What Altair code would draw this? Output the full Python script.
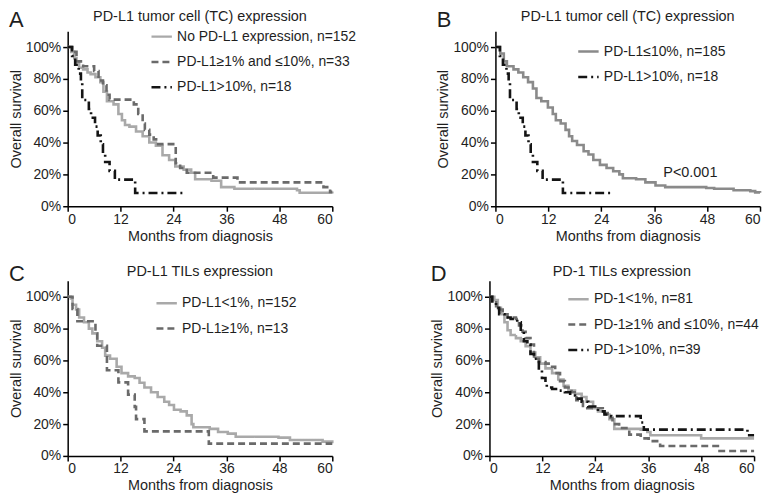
import altair as alt
import pandas as pd

FONT = "Liberation Sans"
TXT = "#1e1e1e"

# ---------------- data (months, survival fraction) ----------------
# Panel A: PD-L1 tumor cell (TC) expression, three groups
A_names = ["No PD-L1 expression, n=152", "PD-L1≥1% and ≤10%, n=33", "PD-L1>10%, n=18"]
A_none_t = [0, 0.8, 1.5, 2.0, 2.6, 3.5, 4.5, 5.2, 6.3, 7.4, 8.1, 8.9, 10.4, 11.5, 12.3, 13.0, 14.0,
            15.5, 17.0, 18.5, 20.0, 21.5, 23.0, 24.4, 26.3, 28.0, 28.9, 32.6, 34.8, 37.8, 52.0, 52.6, 60]
A_none_s = [1.0, 0.97, 0.93, 0.91, 0.87, 0.86, 0.84, 0.83, 0.81, 0.78, 0.72, 0.66, 0.64, 0.58, 0.54,
            0.51, 0.50, 0.47, 0.44, 0.40, 0.38, 0.32, 0.29, 0.25, 0.23, 0.21, 0.17, 0.16, 0.12, 0.11,
            0.10, 0.085, 0.08]
A_mid_t = [0, 1.0, 2.0, 3.5, 6.0, 7.0, 8.0, 8.8, 9.5, 15.0, 16.0, 17.0, 17.5, 18.5, 19.5, 20.5,
           24.5, 25.5, 27.0, 33.0, 38.5, 58.0, 59.5, 60]
A_mid_s = [1.0, 0.97, 0.91, 0.88, 0.85, 0.79, 0.76, 0.70, 0.67, 0.64, 0.58, 0.52, 0.48, 0.45,
           0.42, 0.39, 0.27, 0.24, 0.21, 0.18, 0.15, 0.12, 0.09, 0.09]
# PD-L1 >10% (same curve in panels A and B)
TC_high_t = [0, 1.0, 1.7, 2.5, 3.0, 3.3, 4.8, 5.3, 6.2, 6.8, 7.5, 8.0, 8.5, 9.5, 10.7, 15.3, 26.7]
TC_high_s = [1.0, 0.944, 0.889, 0.833, 0.778, 0.667, 0.611, 0.556, 0.500, 0.444, 0.389, 0.333,
             0.278, 0.222, 0.167, 0.083, 0.083]

# Panel B: PD-L1 TC, two groups
B_names = ["PD-L1≤10%, n=185", "PD-L1>10%, n=18"]
B_low_t = [0, 1.1, 1.9, 2.6, 4.1, 5.2, 6.3, 7.4, 8.5, 9.3, 10.4, 11.9, 13.0, 13.7, 14.8, 15.9,
           16.7, 17.4, 18.5, 20.0, 21.1, 22.2, 23.7, 25.2, 26.7, 28.1, 28.9, 31.9, 34.0, 36.3,
           38.5, 47.8, 49.6, 54.0, 57.8, 58.9, 60]
B_low_s = [1.0, 0.96, 0.91, 0.88, 0.86, 0.84, 0.81, 0.78, 0.74, 0.68, 0.66, 0.62, 0.58, 0.54,
           0.52, 0.48, 0.44, 0.41, 0.385, 0.345, 0.325, 0.29, 0.26, 0.24, 0.22, 0.20, 0.176,
           0.17, 0.15, 0.13, 0.12, 0.115, 0.11, 0.10, 0.095, 0.087, 0.085]
B_p_label = "P<0.001"
B_p_pos = [44.2, 0.185]

# Panel C: PD-L1 TILs expression
C_names = ["PD-L1<1%, n=152", "PD-L1≥1%, n=13"]
C_low_t = [0, 0.7, 1.1, 1.9, 2.6, 3.7, 4.8, 5.6, 6.7, 7.8, 8.5, 9.6, 11.1, 12.2, 13.7, 15.2,
           16.3, 17.4, 18.9, 20.4, 21.9, 23.0, 24.1, 25.6, 27.0, 28.1, 28.5, 32.2, 34.1, 36.3,
           38.1, 47.8, 50.4, 57.8, 60]
C_low_s = [1.0, 0.99, 0.95, 0.92, 0.87, 0.84, 0.80, 0.77, 0.72, 0.68, 0.63, 0.61, 0.56, 0.52,
           0.50, 0.49, 0.46, 0.43, 0.40, 0.37, 0.34, 0.32, 0.29, 0.28, 0.255, 0.20, 0.18, 0.17,
           0.15, 0.14, 0.12, 0.115, 0.10, 0.09, 0.08]
C_high_t = [0, 1.1, 2.2, 6.3, 6.7, 8.9, 11.5, 13.7, 15.2, 15.5, 17.4, 32.0, 60]
C_high_s = [1.0, 0.923, 0.846, 0.769, 0.692, 0.538, 0.462, 0.385, 0.308, 0.231, 0.154, 0.077, 0.077]

# Panel D: PD-1 TILs expression
D_names = ["PD-1<1%, n=81", "PD-1≥1% and ≤10%, n=44", "PD-1>10%, n=39"]
D_low_t = [0, 1.1, 1.9, 2.6, 3.4, 4.1, 4.8, 6.0, 7.1, 8.2, 9.3, 10.4, 11.5, 12.7, 14.2, 15.6,
           16.8, 17.9, 19.4, 20.9, 22.0, 23.5, 24.6, 26.1, 27.2, 28.3, 34.3, 35.8, 36.5, 48.0, 60]
D_low_s = [1.0, 0.98, 0.93, 0.89, 0.84, 0.79, 0.76, 0.74, 0.72, 0.69, 0.65, 0.62, 0.58, 0.55,
           0.52, 0.48, 0.44, 0.41, 0.39, 0.37, 0.34, 0.30, 0.28, 0.26, 0.23, 0.17, 0.165, 0.15,
           0.13, 0.11, 0.11]
D_mid_t = [0, 0.7, 1.5, 2.2, 3.0, 4.1, 6.0, 6.7, 7.5, 8.2, 9.3, 10.1, 11.2, 12.7, 14.2, 14.9,
           16.0, 17.1, 18.6, 19.7, 21.2, 25.7, 26.8, 27.9, 29.4, 31.7, 34.3, 36.1, 38.7, 51.8, 60]
D_mid_s = [1.0, 0.98, 0.94, 0.92, 0.89, 0.87, 0.86, 0.82, 0.78, 0.74, 0.70, 0.61, 0.59, 0.58,
           0.56, 0.52, 0.47, 0.43, 0.40, 0.35, 0.30, 0.27, 0.24, 0.20, 0.175, 0.134, 0.11, 0.093,
           0.062, 0.031, 0.031]
D_high_t = [0, 0.6, 1.5, 2.2, 3.4, 4.8, 6.3, 7.1, 7.8, 8.6, 9.3, 10.1, 11.2, 11.9, 12.7, 13.0,
            14.2, 15.6, 17.1, 18.3, 19.4, 20.9, 22.4, 24.6, 26.1, 27.6, 34.3, 35.0, 58.5, 60]
D_high_s = [1.0, 0.97, 0.93, 0.89, 0.87, 0.86, 0.84, 0.78, 0.72, 0.70, 0.64, 0.61, 0.54, 0.49,
            0.45, 0.43, 0.42, 0.41, 0.40, 0.38, 0.36, 0.34, 0.31, 0.28, 0.26, 0.25, 0.21, 0.165,
            0.13, 0.13]

titles = ["PD-L1 tumor cell (TC) expression", "PD-L1 tumor cell (TC) expression",
          "PD-L1 TILs expression", "PD-1 TILs expression"]
letters = ["A", "B", "C", "D"]
x_ticks = [0, 12, 24, 36, 48, 60]
y_ticks = [0, 0.2, 0.4, 0.6, 0.8, 1.0]

LIGHT = "#a9a9a9"
MID = "#8a8a8a"
DARK = "#6a6a6a"
BLACK = "#141414"
SOLID = [1, 0]
DASH = [7, 4]
DASHDOT = [9, 4, 2, 4]

W, H = 266, 176
XS = alt.Scale(domain=[0, 60], nice=False, zero=False)
YS = alt.Scale(domain=[0, 1.1], nice=False)
XAX = alt.Axis(values=x_ticks, title="Months from diagnosis", format="d")
YAX = alt.Axis(values=y_ticks, title="Overall survival", format=".0%")


def km(t, s, name):
    return pd.DataFrame({"time": t, "surv": s, "group": name})


def panel(frames, names, colors, dashes, title, letter, lx, ly, title_y, letter_y, ptext=None):
    df = pd.concat(frames, ignore_index=True)
    leg = alt.Legend(title=None, orient="none", legendX=lx, legendY=ly, symbolType="stroke",
                     symbolSize=420, symbolStrokeWidth=2.5, labelFontSize=14, labelFont=FONT,
                     labelColor=TXT, rowPadding=6.5, labelOffset=4, labelLimit=400)
    lines = alt.Chart(df).mark_line(interpolate="step-after", strokeWidth=2.6).encode(
        x=alt.X("time:Q", scale=XS, axis=XAX),
        y=alt.Y("surv:Q", scale=YS, axis=YAX),
        color=alt.Color("group:N", scale=alt.Scale(domain=names, range=colors), legend=leg),
        strokeDash=alt.StrokeDash("group:N", scale=alt.Scale(domain=names, range=dashes), legend=leg),
    )
    ttl = alt.Chart(pd.DataFrame({"label": [title]})).mark_text(
        font=FONT, fontSize=14.5, align="center", baseline="alphabetic", color=TXT
    ).encode(text="label:N", x=alt.value(W / 2), y=alt.value(title_y))
    let = alt.Chart(pd.DataFrame({"label": [letter]})).mark_text(
        font=FONT, fontSize=22, align="left", baseline="alphabetic", color=TXT
    ).encode(text="label:N", x=alt.value(-59), y=alt.value(letter_y))
    layers = [lines, ttl, let]
    if ptext is not None:
        pdf = pd.DataFrame({"time": [ptext[1][0]], "surv": [ptext[1][1]], "label": [ptext[0]]})
        layers.append(alt.Chart(pdf).mark_text(
            font=FONT, fontSize=14.5, align="center", baseline="alphabetic", color=TXT
        ).encode(x=alt.X("time:Q", scale=XS, axis=XAX), y=alt.Y("surv:Q", scale=YS, axis=YAX),
                 text="label:N"))
    return alt.layer(*layers).properties(width=W, height=H)


pA = panel([km(A_none_t, A_none_s, A_names[0]), km(A_mid_t, A_mid_s, A_names[1]),
            km(TC_high_t, TC_high_s, A_names[2])],
           A_names, [LIGHT, DARK, BLACK], [SOLID, DASH, DASHDOT],
           titles[0], letters[0], 83, -6, -10, -4)
pB = panel([km(B_low_t, B_low_s, B_names[0]), km(TC_high_t, TC_high_s, B_names[1])],
           B_names, [MID, BLACK], [SOLID, DASHDOT],
           titles[1], letters[1], 82, 9, -10, -4, ptext=(B_p_label, B_p_pos))
pC = panel([km(C_low_t, C_low_s, C_names[0]), km(C_high_t, C_high_s, C_names[1])],
           C_names, [LIGHT, DARK], [SOLID, DASH],
           titles[2], letters[2], 88, 11, -5, 0)
pD = panel([km(D_low_t, D_low_s, D_names[0]), km(D_mid_t, D_mid_s, D_names[1]),
            km(D_high_t, D_high_s, D_names[2])],
           D_names, [LIGHT, DARK, BLACK], [SOLID, DASH, DASHDOT],
           titles[3], letters[3], 78, 7, -5, 0)

res = dict(color="independent", strokeDash="independent")
top = alt.hconcat(pA, pB, spacing=79).resolve_scale(**res).resolve_legend(**res)
bottom = alt.hconcat(pC, pD, spacing=92).resolve_scale(**res).resolve_legend(**res)
chart = alt.vconcat(top, bottom, spacing=20).resolve_scale(**res).resolve_legend(**res).configure(
    padding=0, background="white"
).configure_view(stroke=None).configure_axis(
    grid=False, domainColor="#000", domainWidth=1.5, tickColor="#000", tickWidth=1.5, tickSize=5,
    labelFont=FONT, labelFontSize=14, labelColor=TXT,
    titleFont=FONT, titleFontSize=14.5, titleFontWeight="normal", titleColor=TXT
).configure_axisY(titlePadding=2, labelPadding=2).configure_axisX(titlePadding=3, labelPadding=1)

chart.save("out.html", embed_options={"renderer": "svg", "actions": False})
